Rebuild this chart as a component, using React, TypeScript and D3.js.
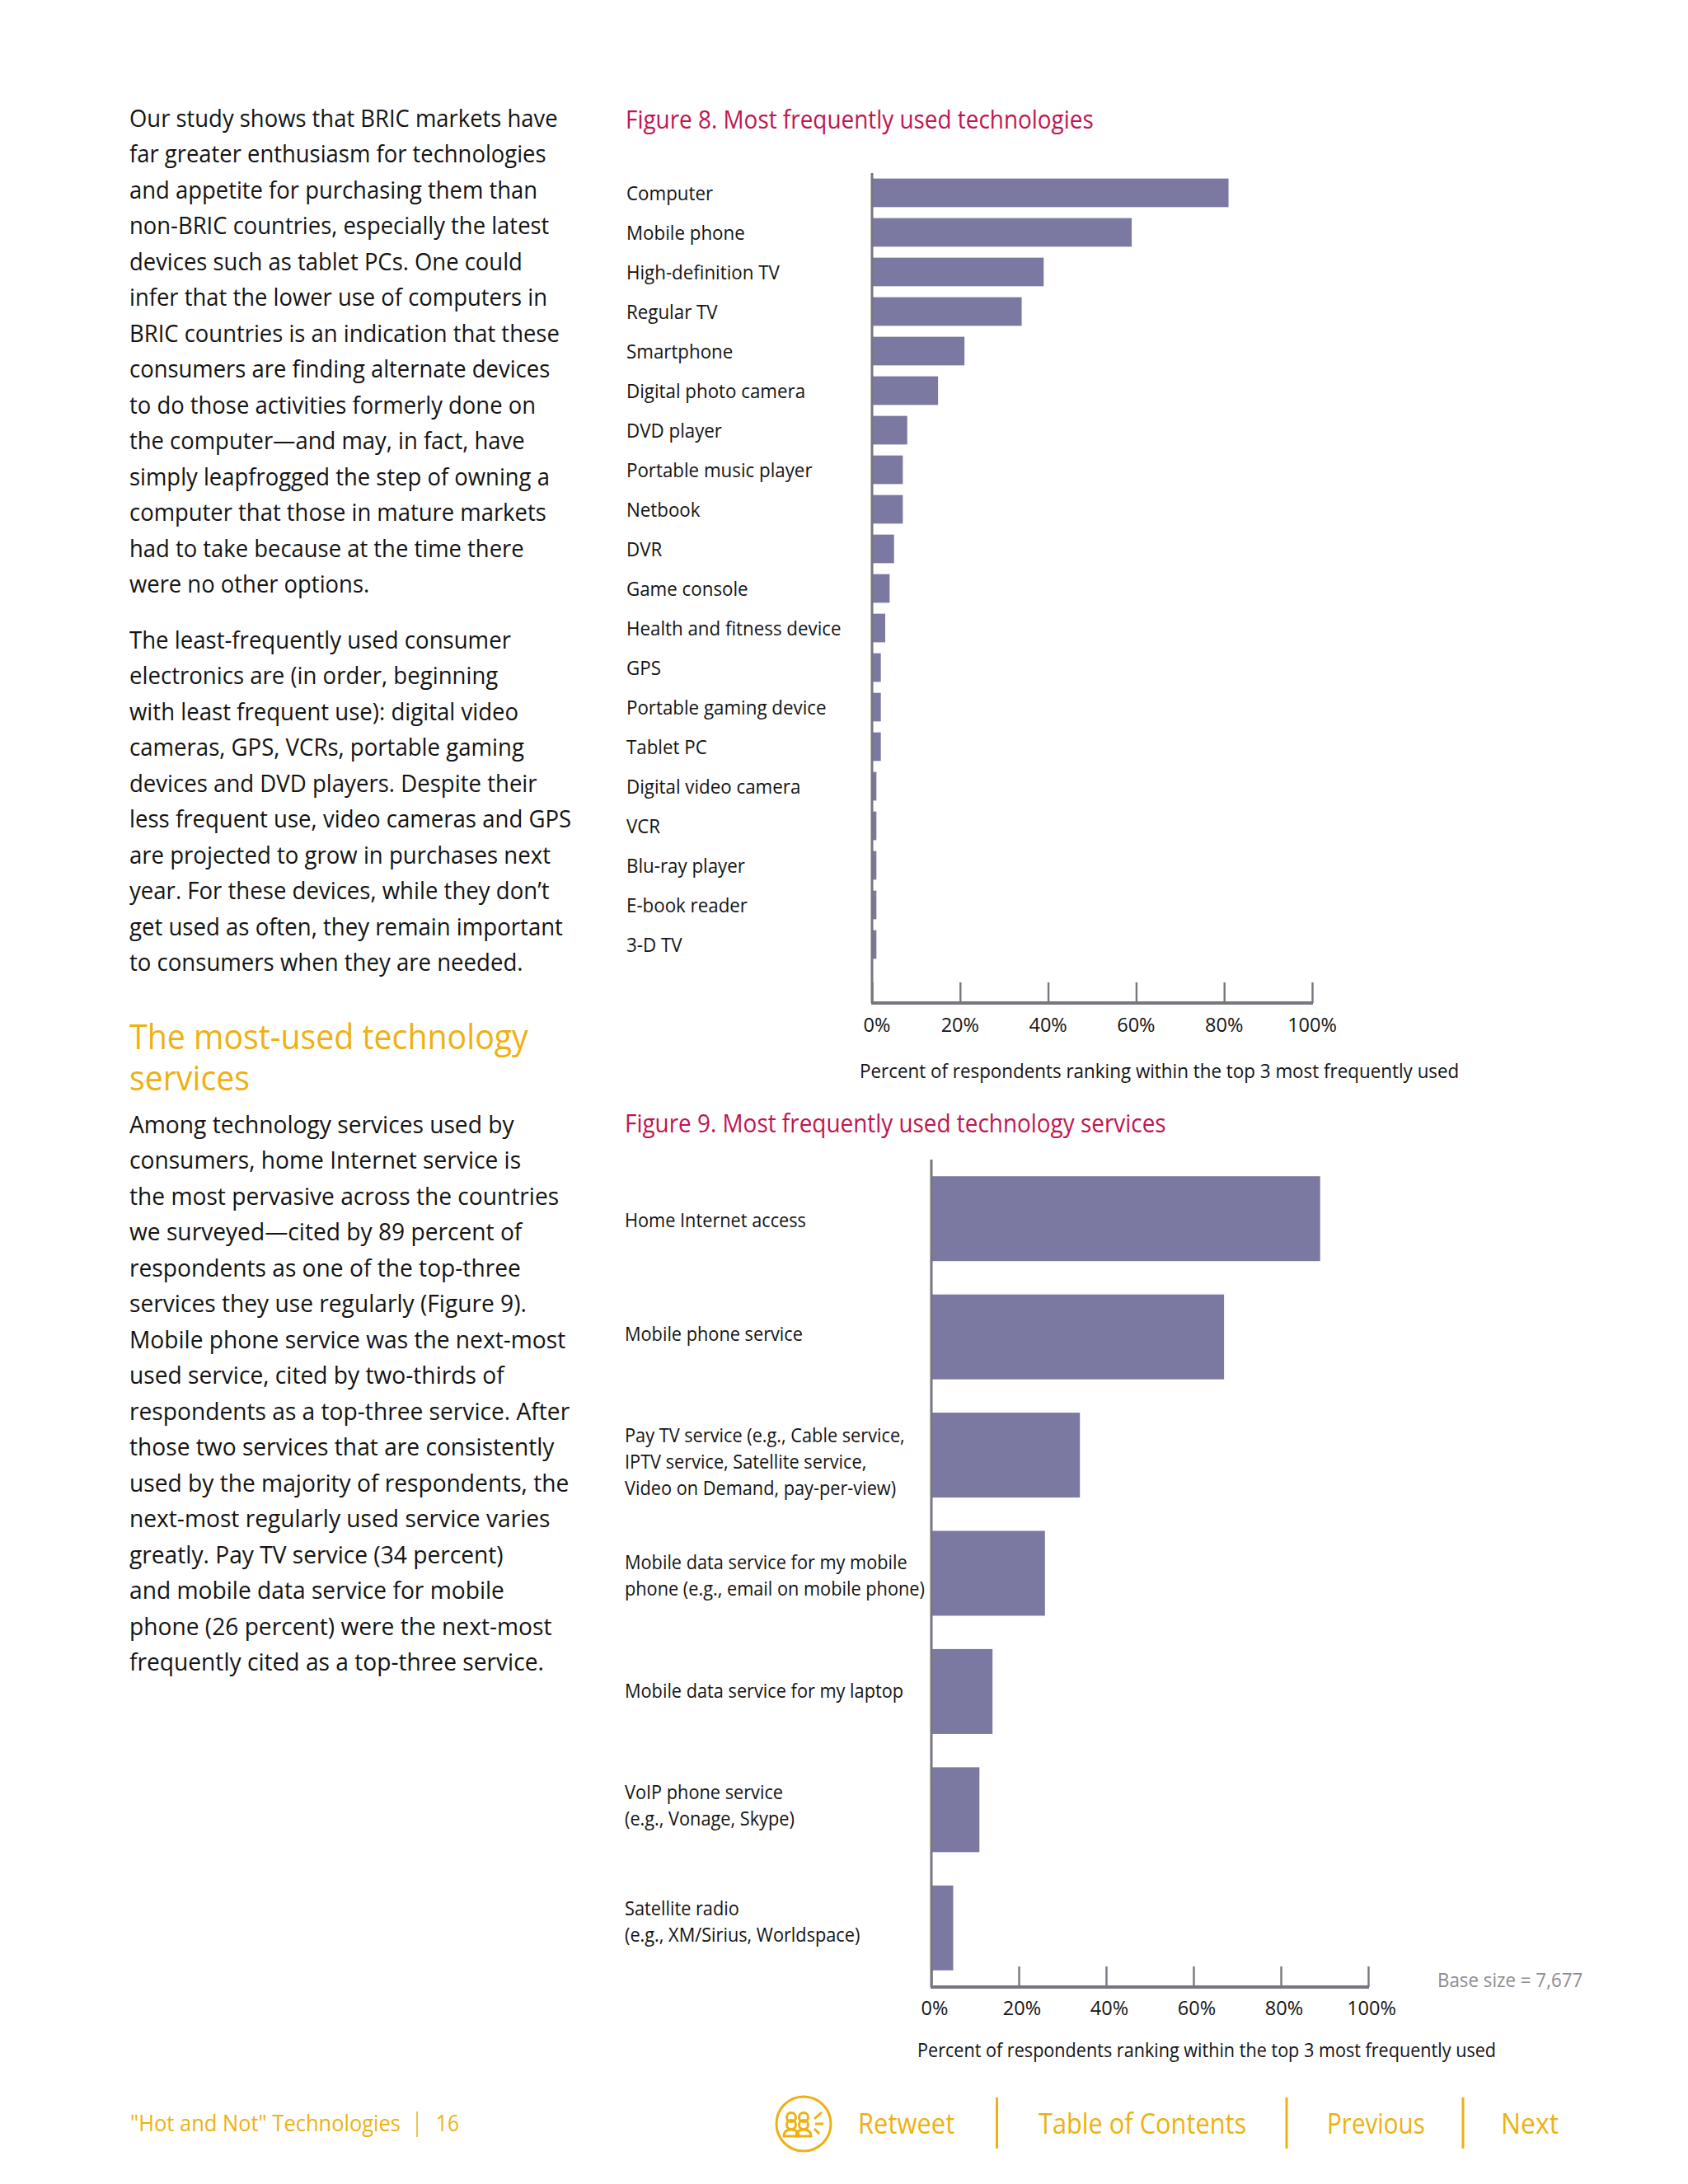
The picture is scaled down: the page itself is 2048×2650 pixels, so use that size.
import * as React from 'react';
import { useEffect, useRef } from 'react';
import * as d3 from 'd3';

const WIDTH = 2048;
const HEIGHT = 2650;
const FONT = '"Open Sans", "Noto Sans", sans-serif';
const BAR = '#7b78a2';
const AXIS = '#77777f';
const YELLOW = '#eeb111';
const CRIMSON = '#bf1650';
const INK = '#141414';

const techNames = ['Computer', 'Mobile phone', 'High-definition TV', 'Regular TV', 'Smartphone', 'Digital photo camera', 'DVD player', 'Portable music player', 'Netbook', 'DVR', 'Game console', 'Health and fitness device', 'GPS', 'Portable gaming device', 'Tablet PC', 'Digital video camera', 'VCR', 'Blu-ray player', 'E-book reader', '3-D TV'];
const techValues = [81, 59, 39, 34, 21, 15, 8, 7, 7, 5, 4, 3, 2, 2, 2, 1, 1, 1, 1, 1];

const serviceNames = [
  ['Home Internet access'],
  ['Mobile phone service'],
  ['Pay TV service (e.g., Cable service,', 'IPTV service, Satellite service,', 'Video on Demand, pay-per-view)'],
  ['Mobile data service for my mobile', 'phone (e.g., email on mobile phone)'],
  ['Mobile data service for my laptop'],
  ['VoIP phone service', '(e.g., Vonage, Skype)'],
  ['Satellite radio', '(e.g., XM/Sirius, Worldspace)'],
];
const serviceValues = [89, 67, 34, 26, 14, 11, 5];
// labels in the source are not quite centred on their bars
const serviceLabelNudge = [2, -3, 8, 3, 0, -5, -7];

const percentTicks = [0, 20, 40, 60, 80, 100];
const axisCaption = 'Percent of respondents ranking within the top 3 most frequently used';

const paragraphOne = ['Our study shows that BRIC markets have', 'far greater enthusiasm for technologies', 'and appetite for purchasing them than', 'non-BRIC countries, especially the latest', 'devices such as tablet PCs. One could', 'infer that the lower use of computers in', 'BRIC countries is an indication that these', 'consumers are finding alternate devices', 'to do those activities formerly done on', 'the computer—and may, in fact, have', 'simply leapfrogged the step of owning a', 'computer that those in mature markets', 'had to take because at the time there', 'were no other options.'];
const paragraphTwo = ['The least-frequently used consumer', 'electronics are (in order, beginning', 'with least frequent use): digital video', 'cameras, GPS, VCRs, portable gaming', 'devices and DVD players. Despite their', 'less frequent use, video cameras and GPS', 'are projected to grow in purchases next', 'year. For these devices, while they don’t', 'get used as often, they remain important', 'to consumers when they are needed.'];
const headingLines = ['The most-used technology', 'services'];
const paragraphThree = ['Among technology services used by', 'consumers, home Internet service is', 'the most pervasive across the countries', 'we surveyed—cited by 89 percent of', 'respondents as one of the top-three', 'services they use regularly (Figure 9).', 'Mobile phone service was the next-most', 'used service, cited by two-thirds of', 'respondents as a top-three service. After', 'those two services that are consistently', 'used by the majority of respondents, the', 'next-most regularly used service varies', 'greatly. Pay TV service (34 percent)', 'and mobile data service for mobile', 'phone (26 percent) were the next-most', 'frequently cited as a top-three service.'];

type G = d3.Selection<SVGGElement, unknown, null, undefined>;

// text squeezed horizontally, the source face is narrower than anything installed
function label(g: G, str: string, x: number, y: number, size: number, fill: string, sx = 1, anchor = 'start', weight = 400) {
  g.append('text')
    .attr('transform', `translate(${x},${y}) scale(${sx},1)`)
    .attr('font-family', FONT)
    .attr('font-size', size)
    .attr('font-weight', weight)
    .attr('fill', fill)
    .attr('text-anchor', anchor)
    .text(str);
}

function lines(g: G, rows: string[], x: number, y: number, dy: number, size: number, fill: string, sx: number) {
  rows.forEach((r, i) => label(g, r, x, y + i * dy, size, fill, sx));
}

function percentAxis(g: G, x: d3.ScaleLinear<number, number>, yAxis: number, tickLen: number, labelY: number, shift: (t: number) => number) {
  const axis = g.append('g').attr('transform', `translate(0,${yAxis})`)
    .call(d3.axisTop(x).tickValues(percentTicks).tickSize(tickLen).tickFormat(() => ''));
  axis.select('.domain').remove();
  axis.selectAll('.tick line').attr('stroke', AXIS).attr('stroke-width', 2.4);
  g.append('line').attr('x1', x(0) - 1).attr('x2', x(100) + 1).attr('y1', yAxis).attr('y2', yAxis)
    .attr('stroke', AXIS).attr('stroke-width', 4);
  percentTicks.forEach(t => {
    label(g, `${t}%`, x(t) + shift(t), labelY, 23.5, INK, 1, 'middle');
  });
}

const App: React.FC = () => {
  const svgRef = useRef<SVGSVGElement>(null);

  useEffect(() => {
    if (!svgRef.current) return;
    const svg = d3.select(svgRef.current);
    svg.selectAll('*').remove();
    const g = svg.append('g') as unknown as G;

    // left column
    lines(g, paragraphOne, 157, 153.5, 43.5, 29.5, INK, 0.93);
    lines(g, paragraphTwo, 157, 786.5, 43.5, 29.5, INK, 0.935);
    lines(g, headingLines, 157, 1273, 50, 42, YELLOW, 0.936);
    lines(g, paragraphThree, 157, 1374.5, 43.5, 29.5, INK, 0.955);

    // figure 8
    label(g, 'Figure 8. Most frequently used technologies', 759, 156, 31, CRIMSON, 0.9);
    const x8 = d3.scaleLinear().domain([0, 100]).range([1058, 1592]);
    const y8 = d3.scaleBand<string>().domain(techNames).range([210, 1170]).paddingInner(0.277).paddingOuter(0.138);
    g.selectAll('.bar8').data(techValues).enter().append('rect')
      .attr('x', x8(0))
      .attr('y', (_, i) => y8(techNames[i]) as number)
      .attr('width', d => x8(d) - x8(0))
      .attr('height', y8.bandwidth())
      .attr('fill', BAR);
    g.append('line').attr('x1', x8(0)).attr('x2', x8(0)).attr('y1', 210).attr('y2', 1217).attr('stroke', AXIS).attr('stroke-width', 3);
    techNames.forEach(n => label(g, n, 760, (y8(n) as number) + 26, 23.5, INK, 0.95));
    percentAxis(g, x8, 1217, 25, 1252, t => (t === 0 ? 6 : 0));
    label(g, axisCaption, 1043, 1308, 23.5, INK, 0.953);

    // figure 9
    label(g, 'Figure 9. Most frequently used technology services', 758, 1374, 31, CRIMSON, 0.9);
    const bandNames = serviceNames.map(s => s[0]);
    const x9 = d3.scaleLinear().domain([0, 100]).range([1130, 1660]);
    const y9 = d3.scaleBand<string>().domain(bandNames).range([1407, 2411]).paddingInner(0.282).paddingOuter(0.141);
    g.selectAll('.bar9').data(serviceValues).enter().append('rect')
      .attr('x', x9(0))
      .attr('y', (_, i) => y9(bandNames[i]) as number)
      .attr('width', d => x9(d) - x9(0))
      .attr('height', y9.bandwidth())
      .attr('fill', BAR);
    g.append('line').attr('x1', x9(0)).attr('x2', x9(0)).attr('y1', 1407).attr('y2', 2411).attr('stroke', AXIS).attr('stroke-width', 3);
    serviceNames.forEach((rows, i) => {
      const mid = (y9(rows[0]) as number) + y9.bandwidth() / 2;
      const first = mid + 8 - ((rows.length - 1) * 32) / 2 + serviceLabelNudge[i];
      lines(g, rows, 758, first, 32, 23.5, INK, 0.925);
    });
    percentAxis(g, x9, 2411, 25, 2445, () => 4);
    label(g, axisCaption, 1113, 2496, 23.5, INK, 0.92);
    label(g, 'Base size = 7,677', 1744, 2411, 23.5, '#8c8c90', 0.95);

    // footer
    label(g, '"Hot and Not" Technologies', 158, 2586, 27, YELLOW, 0.944);
    label(g, '16', 529, 2586, 27, YELLOW, 0.9);
    g.append('line').attr('x1', 506).attr('x2', 506).attr('y1', 2562).attr('y2', 2593).attr('stroke', YELLOW).attr('stroke-width', 1.5);
    label(g, 'Retweet', 1041, 2588.5, 34, YELLOW, 0.91);
    label(g, 'Table of Contents', 1260, 2588.5, 34, YELLOW, 0.905);
    label(g, 'Previous', 1610, 2588.5, 34, YELLOW, 0.87);
    label(g, 'Next', 1821, 2588.5, 34, YELLOW, 0.94);
    [1209.5, 1561, 1775].forEach(sep => {
      g.append('line').attr('x1', sep).attr('x2', sep).attr('y1', 2545).attr('y2', 2607).attr('stroke', YELLOW).attr('stroke-width', 3);
    });

    // retweet badge
    const badge = g.append('g').attr('transform', 'translate(975,2577)').attr('fill', 'none').attr('stroke', YELLOW).attr('stroke-width', 3);
    badge.append('circle').attr('r', 33);
    [-15, 0].forEach(cx => {
      badge.append('circle').attr('cx', cx).attr('cy', -8).attr('r', 5.5);
      badge.append('circle').attr('cx', cx).attr('cy', 1).attr('r', 5.5);
      badge.append('path').attr('d', `M${cx - 9},15 Q${cx - 9},7 ${cx},7 Q${cx + 9},7 ${cx + 9},15 Z`);
    });
    badge.append('path').attr('d', 'M13,-6 L22,-14 M14,0 L24,0 M13,6 L19,12');
  }, []);

  return <svg ref={svgRef} width={WIDTH} height={HEIGHT} viewBox={`0 0 ${WIDTH} ${HEIGHT}`} style={{ position: 'absolute', left: 0, top: 0, background: '#fff' }} />;
};

export default App;
